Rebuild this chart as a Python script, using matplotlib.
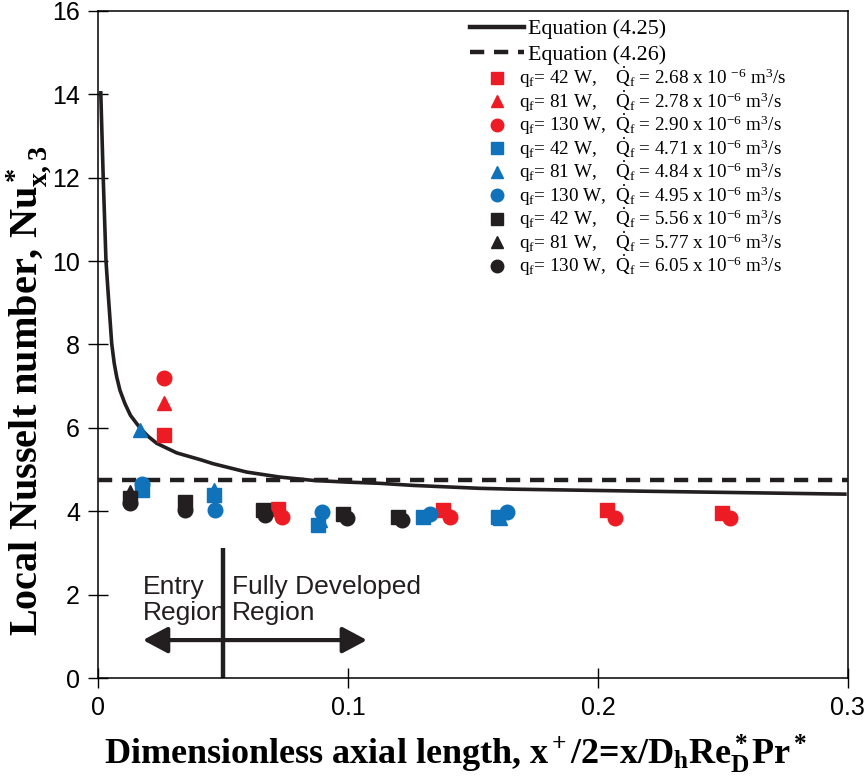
import matplotlib
matplotlib.use("Agg")
import matplotlib.pyplot as plt
from matplotlib.lines import Line2D

plt.rcParams["font.family"] = "Liberation Sans"
plt.rcParams["mathtext.fontset"] = "custom"
plt.rcParams["mathtext.rm"] = "Liberation Serif"
plt.rcParams["mathtext.it"] = "Liberation Serif:italic"
plt.rcParams["mathtext.bf"] = "Liberation Serif:bold"
plt.rcParams["mathtext.default"] = "regular"

RED = "#ED1C24"
BLUE = "#0F72BA"
BLACK = "#231F20"

# Equation (4.25): developing-flow Nusselt number
eq425_x = [0.0011, 0.0021, 0.0032, 0.0041, 0.0055, 0.0065, 0.0075, 0.0088,
           0.0108, 0.013, 0.0168, 0.02, 0.0235, 0.0315, 0.0408, 0.0461,
           0.0595, 0.0728, 0.0861, 0.0995, 0.1128, 0.1261, 0.1528, 0.166,
           0.2195, 0.2995]
eq425_y = [14.08, 12.0, 10.01, 9.21, 8.02, 7.55, 7.22, 6.90,
           6.58, 6.30, 6.00, 5.80, 5.63, 5.40, 5.24, 5.14,
           4.94, 4.82, 4.74, 4.70, 4.67, 4.62, 4.55, 4.53,
           4.48, 4.41]

# Equation (4.26): fully developed value
eq426_x = [0.0, 0.3]
eq426_nu = 4.74

# measured local Nusselt numbers, one series per heater power / flow rate
red_sq_x = [0.0264, 0.0721, 0.1381, 0.2036, 0.2496]
red_sq_y = [5.84, 4.06, 4.02, 4.02, 3.95]
red_tri_x = [0.0264]
red_tri_y = [6.59]
red_ci_x = [0.0264, 0.0735, 0.1408, 0.2068, 0.2528]
red_ci_y = [7.19, 3.86, 3.86, 3.83, 3.83]

blue_sq_x = [0.0175, 0.0464, 0.0881, 0.1301, 0.1601]
blue_sq_y = [4.50, 4.38, 3.66, 3.86, 3.86]
blue_tri_x = [0.0168, 0.0464, 0.0890, 0.1610]
blue_tri_y = [5.94, 4.50, 3.80, 3.84]
blue_ci_x = [0.0175, 0.0468, 0.0895, 0.1328, 0.1635]
blue_ci_y = [4.66, 4.02, 3.98, 3.94, 3.98]

black_sq_x = [0.0128, 0.0348, 0.0661, 0.0981, 0.1201]
black_sq_y = [4.31, 4.22, 4.02, 3.94, 3.86]
black_tri_x = [0.0128]
black_tri_y = [4.47]
black_ci_x = [0.0128, 0.0348, 0.0668, 0.0995, 0.1215]
black_ci_y = [4.19, 4.02, 3.92, 3.83, 3.80]

labels = [
    r"q$_\mathrm{f}$= 42 W,    $\dot{Q}_\mathrm{f}$ = 2.68 x 10 $^{-6}$ m$^3$/s",
    r"q$_\mathrm{f}$= 81 W,    $\dot{Q}_\mathrm{f}$ = 2.78 x 10$^{-6}$ m$^3$/s",
    r"q$_\mathrm{f}$= 130 W,  $\dot{Q}_\mathrm{f}$ = 2.90 x 10$^{-6}$ m$^3$/s",
    r"q$_\mathrm{f}$= 42 W,    $\dot{Q}_\mathrm{f}$ = 4.71 x 10$^{-6}$ m$^3$/s",
    r"q$_\mathrm{f}$= 81 W,    $\dot{Q}_\mathrm{f}$ = 4.84 x 10$^{-6}$ m$^3$/s",
    r"q$_\mathrm{f}$= 130 W,  $\dot{Q}_\mathrm{f}$ = 4.95 x 10$^{-6}$ m$^3$/s",
    r"q$_\mathrm{f}$= 42 W,    $\dot{Q}_\mathrm{f}$ = 5.56 x 10$^{-6}$ m$^3$/s",
    r"q$_\mathrm{f}$= 81 W,    $\dot{Q}_\mathrm{f}$ = 5.77 x 10$^{-6}$ m$^3$/s",
    r"q$_\mathrm{f}$= 130 W,  $\dot{Q}_\mathrm{f}$ = 6.05 x 10$^{-6}$ m$^3$/s",
]

series = [
    (red_sq_x, red_sq_y, RED, "s"),
    (red_tri_x, red_tri_y, RED, "^"),
    (red_ci_x, red_ci_y, RED, "o"),
    (blue_sq_x, blue_sq_y, BLUE, "s"),
    (blue_tri_x, blue_tri_y, BLUE, "^"),
    (blue_ci_x, blue_ci_y, BLUE, "o"),
    (black_sq_x, black_sq_y, BLACK, "s"),
    (black_tri_x, black_tri_y, BLACK, "^"),
    (black_ci_x, black_ci_y, BLACK, "o"),
]

x_ticks = [0, 0.1, 0.2, 0.3]
x_ticklabels = ["0", "0.1", "0.2", "0.3"]
y_ticks = [0, 2, 4, 6, 8, 10, 12, 14, 16]

fig = plt.figure(figsize=(8.67, 7.78), dpi=100)
ax = fig.add_axes([0.113, 0.1285, 0.865, 0.8574])

ax.plot(eq425_x, eq425_y, color=BLACK, lw=2.6, solid_capstyle="butt",
        solid_joinstyle="round", zorder=3)
ax.plot(eq426_x, [eq426_nu] * 2, color=BLACK, lw=3.2, dashes=(3.2, 2.2), zorder=3)

for (xs, ys, col, mk) in series:
    ax.plot(xs, ys, ls="none", marker=mk, ms=10.5, color=col, mec=col, zorder=4)

# entry / fully developed region markers
ax.plot([0.05, 0.05], [0, 3.11], color=BLACK, lw=3.2, solid_capstyle="butt", zorder=2)
arrow_kw = dict(arrowstyle="-|>,head_length=0.75,head_width=0.4", color=BLACK,
                lw=3.0, shrinkA=0, shrinkB=0, mutation_scale=20)
ax.annotate("", xy=(0.018, 0.91), xytext=(0.05, 0.91), arrowprops=arrow_kw)
ax.annotate("", xy=(0.1076, 0.91), xytext=(0.05, 0.91), arrowprops=arrow_kw)
ax.text(0.018, 2.47, "Entry\nRegion", fontsize=19, va="top", ha="left",
        linespacing=1.12, color=BLACK)
ax.text(0.0536, 2.47, "Fully Developed\nRegion", fontsize=19, va="top", ha="left",
        linespacing=1.12, color=BLACK)

ax.set_xlim(0, 0.3)
ax.set_ylim(0, 16)
ax.set_xticks(x_ticks)
ax.set_xticklabels(x_ticklabels)
ax.set_yticks(y_ticks)
ax.tick_params(direction="inout", length=14, width=1.0, labelsize=18, pad=6)
for sp in ax.spines.values():
    sp.set_linewidth(1.1)

ax.set_xlabel(r"Dimensionless axial length, x$^+$/2=x/D$_\mathbf{h}$Re$^*_\mathbf{D}$Pr$^*$",
              fontsize=26, fontweight="bold", family="Liberation Serif")
ax.set_ylabel(r"Local Nusselt number, Nu$^*_\mathbf{x,3}$",
              fontsize=29, fontweight="bold", family="Liberation Serif")
ax.xaxis.set_label_coords(0.477, -0.082)
ax.yaxis.set_label_coords(-0.058, 0.43)

# legends: equations first, then the measured series
eq_handles = [Line2D([], [], color=BLACK, lw=3.2),
              Line2D([], [], color=BLACK, lw=3.2, dashes=(3.2, 2.2))]
leg1 = fig.legend(eq_handles, ["Equation (4.25)", "Equation (4.26)"],
                  loc="upper left", bbox_to_anchor=(470 / 867, 1 - 19 / 778),
                  frameon=False, borderpad=0, borderaxespad=0,
                  handlelength=2.45, handletextpad=0.2, labelspacing=0.22,
                  prop={"family": "Liberation Serif", "size": 15.8})

mk_handles = [Line2D([], [], ls="none", marker=mk, ms=9, color=col)
              for (_, _, col, mk) in series]
leg2 = fig.legend(mk_handles, labels, loc="upper left",
                  bbox_to_anchor=(485 / 867, 1 - 65 / 778),
                  frameon=False, borderpad=0, borderaxespad=0,
                  handlelength=1.25, handletextpad=0.5, labelspacing=-0.1,
                  prop={"family": "Liberation Serif", "size": 13.8})

fig.savefig("out.png", dpi=100)
